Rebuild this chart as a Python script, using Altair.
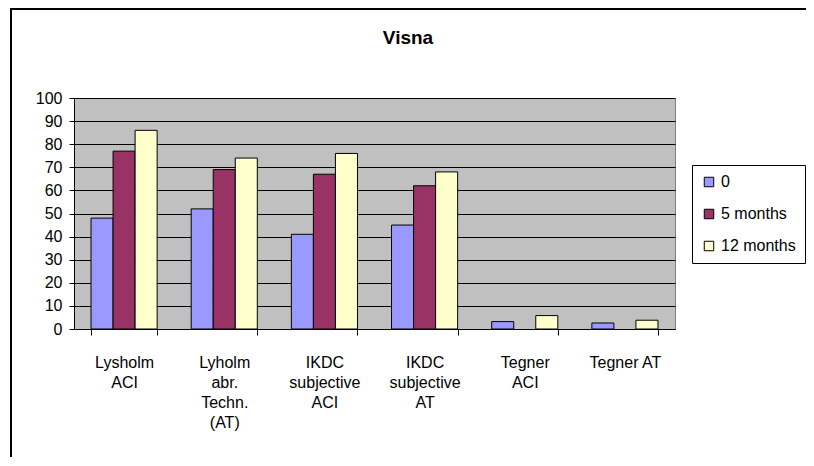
import altair as alt
import pandas as pd

title_text = "Visna"
categories = [
    "Lysholm\nACI",
    "Lyholm\nabr.\nTechn.\n(AT)",
    "IKDC\nsubjective\nACI",
    "IKDC\nsubjective\nAT",
    "Tegner\nACI",
    "Tegner AT",
]
series = ["0", "5 months", "12 months"]
colors = ["#9999FF", "#993366", "#FFFFCC"]
vals_0 = [48, 52, 41, 45, 3.2, 2.6]
vals_5 = [77, 69, 67, 62, None, None]
vals_12 = [86, 74, 76, 68, 5.8, 3.8]
y_ticks = list(range(0, 101, 10))

rows = []
for s, vals in zip(series, [vals_0, vals_5, vals_12]):
    for c, v in zip(categories, vals):
        if v is not None:
            rows.append({"cat": c, "series": s, "value": v})
df = pd.DataFrame(rows)

FONT = "Liberation Sans"

bars = alt.Chart(df).mark_bar(stroke="black", strokeWidth=1).encode(
    x=alt.X(
        "cat:N",
        sort=categories,
        scale=alt.Scale(paddingInner=0.34, paddingOuter=0.17),
        axis=alt.Axis(
            title=None,
            labelAngle=0,
            labelExpr="split(datum.label, '\\n')",
            labelFont=FONT,
            labelFontSize=16,
            labelColor="black",
            labelLineHeight=20,
            labelBaseline="top",
            labelPadding=19,
            tickBand="extent",
            tickSize=6,
            tickColor="#000000",
            domainColor="#000000",
            grid=False,
        ),
    ),
    xOffset=alt.XOffset(
        "series:N",
        sort=series,
        scale=alt.Scale(domain=series, paddingInner=0, paddingOuter=0),
    ),
    y=alt.Y(
        "value:Q",
        scale=alt.Scale(domain=[0, 100], nice=False),
        axis=alt.Axis(
            title=None,
            values=y_ticks,
            labelFont=FONT,
            labelFontSize=16,
            labelColor="black",
            labelPadding=7,
            tickSize=5,
            tickColor="#000000",
            domainColor="#000000",
            gridColor="#000000",
            gridOpacity=1,
            gridWidth=1,
        ),
    ),
    color=alt.Color(
        "series:N",
        sort=series,
        scale=alt.Scale(domain=series, range=colors),
        title=None,
        legend=alt.Legend(
            orient="none",
            legendX=618,
            legendY=67,
            symbolType="square",
            symbolSize=90,
            symbolStrokeColor="black",
            symbolStrokeWidth=1,
            symbolOpacity=1,
            labelFont=FONT,
            labelFontSize=16,
            labelColor="black",
            labelOffset=4,
            rowPadding=16,
            padding=9,
            strokeColor="black",
            fillColor="white",
        ),
    ),
)

frame_data = alt.Data(values=[{"k": 1}])
frame_left = alt.Chart(frame_data).mark_rule(color="black", strokeWidth=2).encode(
    x=alt.value(-63), y=alt.value(-89), y2=alt.value(420)
)
frame_top = alt.Chart(frame_data).mark_rule(color="black", strokeWidth=2).encode(
    x=alt.value(-64), x2=alt.value(760), y=alt.value(-89)
)
title = alt.Chart(alt.Data(values=[{"t": title_text}])).mark_text(
    font=FONT, fontSize=19, fontWeight="bold", color="black", baseline="middle", align="center"
).encode(text="t:N", x=alt.value(334), y=alt.value(-60))

chart = (
    alt.layer(frame_left, frame_top, title, bars)
    .properties(
        width=601,
        height=231,
        autosize=alt.AutoSizeParams(type="none"),
        padding={"left": 66, "top": 90, "right": 131, "bottom": 128},
        background="white",
    )
    .configure_view(fill="#C0C0C0", stroke="#808080", strokeWidth=1)
)

chart.save("out.html", embed_options={"renderer": "svg", "actions": False})
